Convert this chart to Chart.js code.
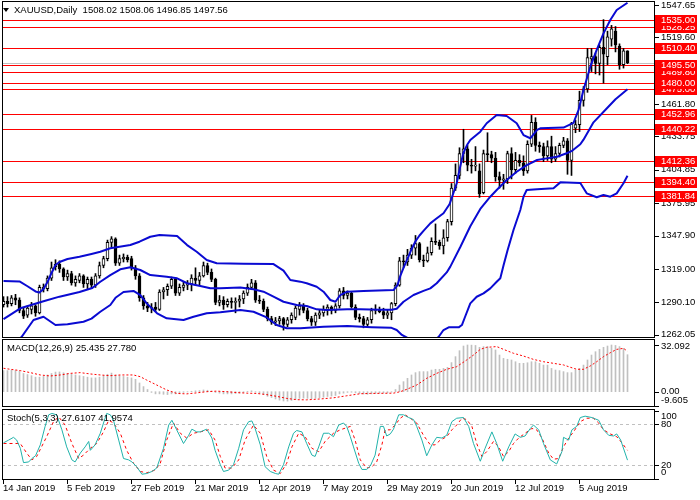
<!DOCTYPE html>
<html>
<head>
<meta charset="utf-8">
<script src="https://cdn.jsdelivr.net/npm/chart.js@4.4.1/dist/chart.umd.min.js"></script>
<style>
  html, body { margin: 0; padding: 0; background: #fff; }
  #wrap { position: relative; width: 700px; height: 500px; overflow: hidden; background: #fff; }
  canvas { position: absolute; left: 0; }
</style>
</head>
<body>
<div id="wrap">
  <canvas id="priceChart" width="700" height="338" style="top:0px"></canvas>
  <canvas id="macdChart" width="700" height="69" style="top:338px"></canvas>
  <canvas id="stochChart" width="700" height="93" style="top:407px"></canvas>
</div>
<script>
// daily bars, index 0 = 14 Jan 2019 ... 156 = 21 Aug 2019
const dateTickIdx = [0, 16, 32, 48, 64, 80, 96, 112, 128, 144];
const dateTickLabels = ["14 Jan 2019", "5 Feb 2019", "27 Feb 2019", "21 Mar 2019", "12 Apr 2019",
  "7 May 2019", "29 May 2019", "20 Jun 2019", "12 Jul 2019", "5 Aug 2019"];

const opens = [1288,1291,1289,1294,1292,1283,1279,1284,1287,1281, 1302,1302,1311,1321,1323,1319,1312,1315,1307,1309,
  1313,1306,1310,1305,1313,1322,1328,1342,1345,1324, 1328,1329,1328,1320,1313,1294,1287,1285,1286,1284,
  1299,1301,1304,1310,1298,1303,1305,1306,1311,1309, 1313,1322,1316,1310,1290,1292,1288,1291,1290,1291,
  1293,1298,1303,1307,1292,1291,1284,1276,1273,1274, 1276,1271,1275,1277,1284,1287,1283,1276,1273,1279,
  1281,1284,1286,1283,1287,1300,1296,1298,1286,1277, 1276,1271,1275,1283,1284,1282,1279,1281,1289,1305,
  1326,1325,1331,1337,1341,1327,1326,1333,1343,1342, 1339,1346,1360,1389,1400,1419,1423,1409,1408,1404,
  1385,1419,1418,1415,1399,1396,1397,1419,1405,1413, 1411,1404,1427,1446,1426,1425,1417,1425,1414,1419,
  1426,1430,1413,1441,1444,1465,1475,1501,1503,1497, 1511,1503,1518,1525,1512,1496,1508.02];
const highs = [1295,1295,1296,1297,1294,1285,1287,1290,1288,1305, 1306,1313,1325,1327,1326,1320,1318,1317,1313,1315,
  1314,1312,1312,1315,1325,1330,1344,1347,1346,1331, 1332,1331,1330,1322,1315,1296,1290,1289,1290,1301,
  1303,1306,1312,1311,1306,1308,1309,1314,1320,1316, 1325,1324,1319,1311,1296,1295,1293,1294,1294,1296,
  1300,1306,1310,1309,1296,1293,1286,1278,1277,1278, 1277,1277,1281,1287,1290,1289,1285,1278,1281,1284,
  1287,1288,1287,1289,1302,1303,1300,1299,1288,1280, 1278,1277,1285,1288,1286,1285,1284,1290,1307,1329,
  1331,1336,1340,1348,1342,1331,1338,1346,1358,1344, 1353,1362,1393,1410,1424,1440,1426,1414,1425,1410,
  1422,1437,1421,1420,1403,1401,1421,1424,1420,1418, 1417,1430,1452,1450,1429,1428,1430,1434,1425,1428,
  1433,1432,1446,1448,1473,1477,1510,1510,1506,1513, 1535,1525,1530,1529,1514,1510,1508.06];
const lows = [1286,1286,1287,1288,1281,1276,1277,1280,1278,1280, 1299,1300,1309,1318,1316,1309,1309,1305,1304,1307,
  1303,1302,1302,1303,1311,1320,1326,1338,1322,1322, 1325,1325,1318,1310,1291,1284,1282,1281,1282,1283,
  1293,1296,1302,1296,1296,1300,1301,1300,1305,1305, 1312,1314,1308,1288,1287,1284,1286,1285,1281,1286,
  1289,1296,1301,1290,1289,1282,1274,1271,1270,1271, 1266,1269,1272,1275,1279,1281,1274,1270,1270,1276,
  1278,1279,1280,1281,1285,1293,1293,1285,1275,1273, 1268,1269,1272,1280,1281,1276,1276,1275,1287,1304,
  1320,1322,1328,1331,1325,1321,1325,1331,1340,1336, 1332,1343,1357,1387,1397,1411,1404,1402,1404,1381,
  1384,1412,1411,1395,1389,1388,1393,1397,1402,1408, 1400,1402,1425,1421,1420,1412,1413,1411,1412,1416,
  1424,1401,1400,1437,1438,1460,1472,1490,1488,1487, 1480,1496,1512,1507,1492,1493,1496.85];
const closes = [1291,1289,1294,1292,1283,1278,1285,1287,1281,1303, 1303,1311,1320,1323,1319,1312,1315,1307,1310,1313,
  1306,1310,1305,1313,1322,1328,1342,1345,1324,1328, 1329,1327,1320,1313,1294,1287,1285,1286,1284,1299,
  1301,1304,1310,1298,1303,1305,1306,1311,1309,1313, 1322,1316,1310,1290,1292,1288,1291,1290,1291,1293,
  1298,1303,1307,1292,1291,1284,1276,1273,1274,1276, 1271,1275,1279,1285,1287,1283,1276,1273,1279,1281,
  1284,1286,1283,1287,1300,1296,1298,1286,1277,1276, 1271,1275,1283,1284,1282,1279,1281,1289,1305,1326,
  1325,1331,1337,1341,1327,1326,1333,1343,1342,1339, 1346,1360,1389,1400,1419,1423,1409,1408,1409,1384,
  1419,1418,1415,1399,1396,1397,1419,1405,1413,1411, 1404,1427,1446,1426,1425,1417,1425,1414,1419,1426,
  1430,1413,1445,1444,1465,1475,1502,1503,1497,1511, 1505,1520,1527,1513,1496,1508,1497.56];

// Bollinger Bands (20,2) as [bar index, price]
const bbUpper = [[0,1308.6],[4,1308.2],[6,1304],[8,1299.5],[9,1298.5],[10,1301.6],[11,1307.7],[12,1315.5],[13,1322.4],
  [14,1325],[16,1327.6],[19,1329.6],[22,1332],[24.2,1333.9],[26.7,1336.9],[31.7,1339.7],[34,1342.6],[36.7,1346.9],
  [39,1348.4],[43.4,1347.5],[45.9,1339.7],[48.3,1333.9],[50.8,1326.7],[53.3,1323.9],[60,1323.5],[67.5,1323.2],
  [70,1317.5],[71.7,1309.4],[74.2,1308],[75.8,1306.6],[78.3,1303.6],[80,1299.3],[81.7,1292.1],[83,1290.6],
  [84.2,1296.4],[85.9,1299.3],[90,1299.9],[97.5,1300.7],[98.5,1305],[99.2,1313],[100,1320],[101,1328],[102,1336],
  [103,1343],[104,1348],[105,1352],[106.7,1358.5],[108,1362],[110,1367.2],[111.5,1375],[112.5,1385],[113.3,1393.2],
  [114.2,1408],[115,1420],[116,1427],[116.7,1430.7],[119.2,1437.9],[120.8,1445.2],[123.3,1452.4],[125.8,1451.5],
  [128.3,1445.2],[130,1435],[131.7,1432.2],[133.4,1439.4],[134.2,1440.8],[140,1441.5],[142.5,1445.5],
  [143.75,1456.7],[145,1474],[146.7,1494.2],[148.3,1508.7],[150,1523.1],[151.7,1534.7],[153.3,1543.3],[156,1549.6]];
const bbMiddle = [[0,1275.5],[4.2,1284.9],[10,1291],[14,1295],[19,1299],[22.2,1302.5],[24.2,1307.9],[26.7,1313.7],
  [29.2,1318.7],[31.7,1320.4],[34.2,1318.1],[36.7,1313.7],[40.8,1312.3],[43.4,1310.9],[45.9,1306.6],[49.2,1304.2],
  [51.7,1302.2],[54.2,1302.2],[59.2,1303],[62.5,1301.4],[65,1299.3],[67.5,1295],[70,1290.6],[73.3,1287.8],
  [75.8,1286.9],[78.3,1284],[80.8,1283.4],[85.9,1284],[89.2,1284],[94.2,1283.6],[97,1283.6],[98.3,1284.5],
  [100,1290.6],[102.5,1296.4],[105,1300],[106.7,1302.2],[108.3,1306.6],[110.8,1316],[111.7,1321],[114.2,1338],
  [116.7,1356],[119.2,1371],[121.7,1381.6],[123.3,1387.4],[125.8,1396.1],[128.3,1403.2],[130.8,1409],
  [133.4,1413.4],[135.8,1414.8],[138.4,1416.2],[140.8,1419.2],[142,1421],[144.2,1427],[145,1431],[147.5,1446],
  [150.8,1458],[153,1466],[156,1474.6]];
const bbLower = [[0,1250],[4.5,1260],[7.5,1274.8],[10,1277.6],[13,1270.4],[16,1271],[20,1273.3],[22,1276],
  [24.2,1281.9],[26.7,1287.8],[28,1294],[30,1299],[32.5,1300],[34.2,1296.4],[35.8,1289.2],[38.4,1280.6],
  [40.8,1276.2],[45,1274.8],[47.5,1277.6],[50.8,1280.6],[54.2,1281.5],[59.2,1283.4],[62.5,1281.9],[65.8,1277],
  [68.3,1270.4],[70.8,1267.6],[74.2,1267.6],[80,1269],[86,1269.5],[92,1268.5],[97,1268],[98.3,1266.1],
  [99.6,1261.8],[100.9,1259.5],[102,1256],[104,1252],[106,1252],[107.5,1256],[108.8,1260.3],[110,1266.1],
  [111.3,1268.4],[113.8,1268.4],[114.6,1270.4],[115.4,1277.6],[116.7,1289.2],[118.3,1294.9],[120,1297.8],
  [121.7,1302.2],[123.3,1307.9],[124.2,1311],[125,1322],[126,1335],[127.5,1352.7],[129.2,1370.1],[130,1381.6],
  [130.8,1387.4],[133.4,1388],[137.5,1388.9],[139.2,1394],[142.5,1393.7],[144.2,1393.5],[145.8,1384.5],
  [148.3,1381.1],[150,1383.1],[151.7,1381.6],[153.3,1384.5],[155,1393.2],[156,1399.8]];

const priceTicks = [1547.65, 1519.60, 1490.70, 1461.80, 1433.75, 1404.85, 1375.95, 1347.90, 1319.00, 1290.10, 1262.05];
const levels = [1535.00, 1528.25, 1510.40, 1495.50, 1489.80, 1480.00, 1475.00, 1452.96, 1440.22, 1412.36, 1394.40, 1381.84];
const bidPrice = 1497.56;

// MACD(12,26,9): main line drawn as histogram, signal as dotted line
const macdMain = [14.5,14.5,14.8,14.6,14.0,12.5,11.8,11.0,10.0,10.0, 10.5,11.5,12.5,13.5,13.6,13.0,12.5,12.0,11.5,11.0,
  10.5,10.0,9.5,9.5,10.0,11.0,12.0,12.8,11.5,11.0, 10.5,10.0,9.5,8.5,6.0,3.5,1.5,-0.5,-1.5,-1.5,
  -1.8,-2.0,-1.5,-1.5,-1.0,-0.5,-0.2,0.3,0.6,0.8, 1.2,1.0,0.5,-0.5,-1.0,-1.5,-1.5,-1.5,-1.2,-1.0,
  -0.5,0.2,0.6,-0.3,-1.0,-2.0,-3.2,-4.0,-5.0,-5.8, -6.4,-6.5,-6.0,-5.2,-4.6,-4.4,-4.6,-4.8,-4.5,-4.2,
  -3.8,-3.3,-3.0,-2.6,-1.5,-1.0,-0.5,-0.4,-0.8,-1.2, -1.6,-1.8,-1.5,-1.2,-1.0,-0.9,-0.8,-0.3,1.5,4.6,
  6.9,9.2,11.5,13.1,13.8,13.8,13.8,14.9,15.4,15.4, 16.0,16.7,20.0,24.1,28.2,31.4,32.1,32.0,31.8,30.5,
  31.0,31.0,29.8,28.7,25.2,22.9,22.3,21.8,20.6,19.5, 19.5,19.9,20.6,20.6,19.5,18.3,18.3,16.0,14.9,14.5,
  13.8,13.1,13.1,14.9,16.0,18.3,21.8,25.2,27.5,29.1, 30.5,31.4,32.09,31.8,31.0,29.8,25.435];
const macdSignal = [[0,16.1],[1.7,15.4],[4.2,14.5],[6.7,13.1],[9.2,11.5],[11.7,10.8],[14.2,11.5],[16.7,12.6],
  [19.2,13.1],[21.7,12.2],[24.2,11.5],[26.7,11.0],[29.2,11.5],[32.5,11.5],[34.2,10.3],[35.8,8.0],[38.3,4.6],
  [40.8,1.2],[43.3,-1.2],[45.8,-1.5],[48.3,-0.8],[50.8,0.0],[53.3,0.4],[55.8,0.0],[58.3,-0.6],[60.8,-1.0],
  [63.3,-1.2],[65.8,-2.0],[68.3,-3.2],[70.8,-4.6],[73.3,-5.5],[75.8,-5.6],[79.2,-5.0],[82.5,-4.2],[85.8,-2.8],
  [89.2,-1.4],[91.7,-1.2],[95,-1.1],[97.5,-1.0],[99.2,0.0],[100.8,1.6],[103.3,4.6],[105.8,9.2],[108.3,12.6],
  [110.8,15.4],[113.3,17.2],[115.8,21.8],[117.5,25.2],[119.2,29.1],[120.8,30.5],[123.3,31.0],[125,29.1],
  [127.5,26.4],[130,24.5],[132.5,22.2],[135,20.6],[137.5,19.5],[140,18.4],[141.7,16.8],[143.3,15.4],[145,15.4],
  [146.7,17.7],[148.3,20.6],[150,24.1],[151.7,26.8],[153.3,29.1],[155,29.8],[156,27.78]];
const macdTicks = [32.092, 0, -9.605];
const macdTickLabels = ["32.092", "0.00", "-9.605"];

// Stochastic(5,3,3) as [bar index, value]
const stochK = [[0,53],[1.3,57],[2.5,61],[3.3,57],[4.2,45],[5,24],[6.3,25],[7.1,30],[8,34],[9.2,50],[10.4,77],
  [11.3,94],[12.1,96],[13.3,94],[14.6,72],[15.8,47],[17.1,28],[17.9,25],[19.2,38],[20.4,47],[21.3,55],[21.7,42],
  [22.9,50],[24.2,67],[25,82],[25.8,96],[26.7,94],[27.5,86],[28.8,57],[30,30],[31.3,28],[32.1,25],[33.3,18],
  [34.6,7],[35.8,8],[37.1,11],[38.3,16],[40,45],[41.3,79],[42.1,86],[43.3,72],[45,52],[46.3,64],[47.1,73],
  [48.3,69],[49.2,69],[50.8,73],[52.1,60],[52.9,42],[54.2,21],[55,11],[56.3,13],[57.5,21],[58.8,45],[60,72],
  [61.3,84],[62.1,85],[62.9,74],[64.2,50],[65.4,18],[66.7,11],[68,8],[68.8,7],[70,21],[71.3,47],[72.5,67],
  [73.3,71],[74.6,69],[75.8,52],[77.1,35],[77.9,33],[78.8,47],[80,67],[81.3,67],[82.5,62],[83.8,79],[85,82],
  [85.8,77],[86.7,62],[87.5,47],[88.8,23],[89.6,14],[90.8,14],[91.7,19],[92.9,35],[94.2,77],[95,77],[95.8,63],
  [96.7,66],[97.5,73],[98.8,94],[100,94],[101.3,90],[102.5,87],[103.3,77],[104.6,57],[105.8,34],[107.1,50],
  [108.3,61],[109.6,60],[110.8,64],[112.1,84],[113.3,89],[115,90],[116.3,77],[117.5,52],[119.2,26],[120.4,45],
  [122.1,69],[123.3,52],[124.8,26],[126.3,47],[127.9,66],[129.2,61],[130.4,63],[131.7,74],[132.5,79],[133.8,72],
  [135,52],[136.7,28],[138.3,22],[139.6,40],[140,61],[141.3,57],[142.1,72],[143.3,77],[144.2,90],[145.4,92],
  [147.1,90],[148.8,86],[150,72],[151.3,64],[152.5,63],[153.3,66],[154.3,57],[155.4,38],[156,27.61]];
const stochD = [[0,52],[4.2,52],[5.8,38],[7.1,28],[8.3,33],[10.8,62],[12.5,84],[13.8,91],[15.4,79],[17.1,52],
  [18.8,30],[20,35],[21.7,45],[23.3,52],[25,69],[26.3,86],[27.5,82],[29.2,67],[30.8,42],[32.5,23],[34.2,11],
  [35.8,9],[37.9,13],[39.2,23],[40.8,57],[42.5,82],[44.2,67],[45.8,60],[47.5,67],[49.2,69],[51.3,72],[52.9,57],
  [54.2,33],[55.4,16],[57.1,16],[58.8,28],[60.4,57],[62.5,79],[64.2,67],[65.8,33],[67.5,13],[69.2,8],[70.8,23],
  [72.1,47],[73.8,67],[75.4,62],[77.1,45],[78.8,40],[80.4,55],[82.5,67],[84.2,72],[86.7,77],[87.9,57],[89.2,28],
  [90.8,16],[92.1,18],[93.3,25],[94.6,50],[95.4,72],[96.7,72],[97.9,79],[99.2,89],[100.4,94],[101.7,89],
  [103.3,82],[105,64],[106.7,50],[107.9,50],[109.2,57],[110.8,62],[112.1,72],[113.3,79],[114.6,89],[115.8,87],
  [117.1,77],[118.3,52],[119.6,33],[120.8,40],[122.5,55],[123.8,47],[125,33],[126.3,40],[127.5,52],[128.8,60],
  [130.4,67],[132.1,74],[133.3,72],[134.6,60],[136.3,38],[137.5,29],[138.8,30],[140,47],[141.3,60],[142.5,69],
  [144.2,84],[145.8,89],[147.5,89],[148.8,82],[150,72],[151.7,66],[153.3,62],[154.6,53],[156,41.96]];
const stochTicks = [100, 80, 20, 0];
const stochLevels = [80, 20];

// 4 px per bar, bar 0 centred at x = 3.5
const X_MIN = -0.375, X_MAX = 162.625;
const FONT = '9.5px "Liberation Sans", Arial, sans-serif';
const BAND = '#0a0ad2';

const toXY = pairs => pairs.map(p => ({ x: p[0], y: p[1] }));

function lineSet(pairs, color, width, dash, order) {
  return {
    type: 'line', data: toXY(pairs), borderColor: color, borderWidth: width,
    borderDash: dash || [], pointRadius: 0, tension: 0, order: order, borderJoinStyle: 'round'
  };
}

// frame, right-hand value labels and panel caption
function panelDecor(o) {
  return {
    id: 'panelDecor',
    beforeDatasetsDraw(chart) {
      if (!o.before) return;
      const { ctx, chartArea: a } = chart;
      ctx.save();
      ctx.beginPath();
      ctx.rect(a.left, a.top, a.right - a.left, a.bottom - a.top);
      ctx.clip();
      o.before(chart, ctx, a);
      ctx.restore();
    },
    afterDraw(chart) {
      const { ctx, chartArea: a } = chart;
      const ys = chart.scales.y;
      ctx.save();
      ctx.strokeStyle = '#000';
      ctx.lineWidth = 1;
      ctx.setLineDash([]);
      ctx.strokeRect(a.left + 0.5, a.top + 0.5, a.right - a.left, a.bottom - a.top);
      ctx.font = FONT;
      ctx.textBaseline = 'middle';
      ctx.textAlign = 'left';
      ctx.fillStyle = '#000';
      o.ticks.forEach((v, k) => {
        const py = ys.getPixelForValue(v);
        const ty = Math.round(py) + 0.5;
        ctx.beginPath();
        ctx.moveTo(a.right + 1, ty);
        ctx.lineTo(a.right + 5, ty);
        ctx.stroke();
        const ly = Math.min(Math.max(py, a.top + o.margin[0]), a.bottom - o.margin[1]);
        ctx.fillText(o.labels[k], a.right + 7, ly);
      });
      ctx.fillText(o.title, o.titleX, o.titleY);
      if (o.after) o.after(chart, ctx, a);
      ctx.restore();
    }
  };
}

// ---------- price panel ----------
const bodies = opens.map((op, i) => ({ x: i, y: [Math.min(op, closes[i]), Math.max(op, closes[i])] }));
const bodyColors = opens.map((op, i) => closes[i] >= op ? '#ffffff' : '#000000');
const wicks = lows.map((lo, i) => ({ x: i, y: [lo, highs[i]] }));

new Chart(document.getElementById('priceChart'), {
  type: 'bar',
  data: {
    datasets: [
      lineSet(bbUpper, BAND, 2, null, 0),
      lineSet(bbMiddle, BAND, 2, null, 0),
      lineSet(bbLower, BAND, 2, null, 0),
      { type: 'bar', data: bodies, backgroundColor: bodyColors, borderColor: '#000', borderWidth: 1,
        borderSkipped: false, barThickness: 3, minBarLength: 1, grouped: false, order: 1 },
      { type: 'bar', data: wicks, backgroundColor: '#000', borderWidth: 0, barThickness: 1,
        grouped: false, order: 2 }
    ]
  },
  options: {
    responsive: false, animation: false, events: [],
    layout: { autoPadding: false, padding: { left: 2, right: 46, top: 1, bottom: 1 } },
    plugins: { legend: { display: false }, tooltip: { enabled: false } },
    scales: {
      x: { type: 'linear', min: X_MIN, max: X_MAX, offset: false, display: false },
      y: { type: 'linear', min: 1260.05, max: 1551.12, display: false }
    }
  },
  plugins: [panelDecor({
    ticks: priceTicks, labels: priceTicks.map(v => v.toFixed(2)), margin: [4, 2],
    title: 'XAUUSD,Daily  1508.02 1508.06 1496.85 1497.56', titleX: 14, titleY: 10.5,
    before(chart, ctx, a) {
      const ys = chart.scales.y;
      ctx.lineWidth = 1;
      ctx.strokeStyle = '#c0c0c0';
      let py = Math.round(ys.getPixelForValue(bidPrice)) + 0.5;
      ctx.beginPath(); ctx.moveTo(a.left, py); ctx.lineTo(a.right, py); ctx.stroke();
      ctx.strokeStyle = '#ff0000';
      levels.forEach(v => {
        py = Math.round(ys.getPixelForValue(v)) + 0.5;
        ctx.beginPath(); ctx.moveTo(a.left, py); ctx.lineTo(a.right, py); ctx.stroke();
      });
    },
    after(chart, ctx, a) {
      const ys = chart.scales.y;
      // little triangle in front of the caption
      ctx.fillStyle = '#000';
      ctx.beginPath(); ctx.moveTo(3, 8); ctx.lineTo(9, 8); ctx.lineTo(6, 12); ctx.closePath(); ctx.fill();
      levels.slice().sort((p, q) => p - q).forEach(v => {
        const py = ys.getPixelForValue(v);
        ctx.fillStyle = '#ff0000';
        ctx.fillRect(a.right + 1, Math.round(py) - 5, 42, 11);
        ctx.fillStyle = '#ffffff';
        ctx.fillText(v.toFixed(2), a.right + 7, Math.round(py) + 0.5);
      });
    }
  })]
});

// ---------- MACD panel ----------
new Chart(document.getElementById('macdChart'), {
  type: 'bar',
  data: {
    datasets: [
      lineSet(macdSignal, '#ff0000', 1, [2, 2], 0),
      { type: 'bar', data: macdMain.map((v, i) => ({ x: i, y: v })), backgroundColor: '#c0c0c0',
        borderWidth: 0, barThickness: 1, grouped: false, order: 1 }
    ]
  },
  options: {
    responsive: false, animation: false, events: [],
    layout: { autoPadding: false, padding: { left: 2, right: 46, top: 1, bottom: 1 } },
    plugins: { legend: { display: false }, tooltip: { enabled: false } },
    scales: {
      x: { type: 'linear', min: X_MIN, max: X_MAX, offset: false, display: false },
      y: { type: 'linear', min: -9.83, max: 36.22, display: false }
    }
  },
  plugins: [panelDecor({
    ticks: macdTicks, labels: macdTickLabels, margin: [7, 5.3],
    title: 'MACD(12,26,9) 25.435 27.780', titleX: 7, titleY: 10.3
  })]
});

// ---------- Stochastic panel ----------
new Chart(document.getElementById('stochChart'), {
  type: 'line',
  data: {
    datasets: [
      lineSet(stochD, '#ff0000', 1, [3, 3], 1),
      lineSet(stochK, '#20b2aa', 1, null, 0)
    ]
  },
  options: {
    responsive: false, animation: false, events: [],
    layout: { autoPadding: false, padding: { left: 2, right: 46, top: 2, bottom: 21 } },
    plugins: { legend: { display: false }, tooltip: { enabled: false } },
    scales: {
      x: { type: 'linear', min: X_MIN, max: X_MAX, offset: false, display: false },
      y: { type: 'linear', min: 0, max: 102.5, display: false }
    }
  },
  plugins: [panelDecor({
    ticks: stochTicks, labels: stochTicks.map(String), margin: [7.7, 6.3],
    title: 'Stoch(5,3,3) 27.6107 41.9574', titleX: 7, titleY: 11.3,
    before(chart, ctx, a) {
      const ys = chart.scales.y;
      ctx.strokeStyle = '#c0c0c0';
      ctx.lineWidth = 1;
      ctx.setLineDash([3, 3]);
      stochLevels.forEach(v => {
        const py = Math.round(ys.getPixelForValue(v)) + 0.5;
        ctx.beginPath(); ctx.moveTo(a.left, py); ctx.lineTo(a.right, py); ctx.stroke();
      });
    },
    after(chart, ctx, a) {
      const xs = chart.scales.x;
      ctx.fillStyle = '#000';
      ctx.strokeStyle = '#000';
      dateTickIdx.forEach((idx, k) => {
        const px = xs.getPixelForValue(idx);
        const tx = Math.floor(px) + 0.5;
        ctx.beginPath(); ctx.moveTo(tx, a.bottom + 1); ctx.lineTo(tx, a.bottom + 5); ctx.stroke();
        ctx.fillText(dateTickLabels[k], tx - 0.5, a.bottom + 9.5);
      });
    }
  })]
});
</script>
</body>
</html>
